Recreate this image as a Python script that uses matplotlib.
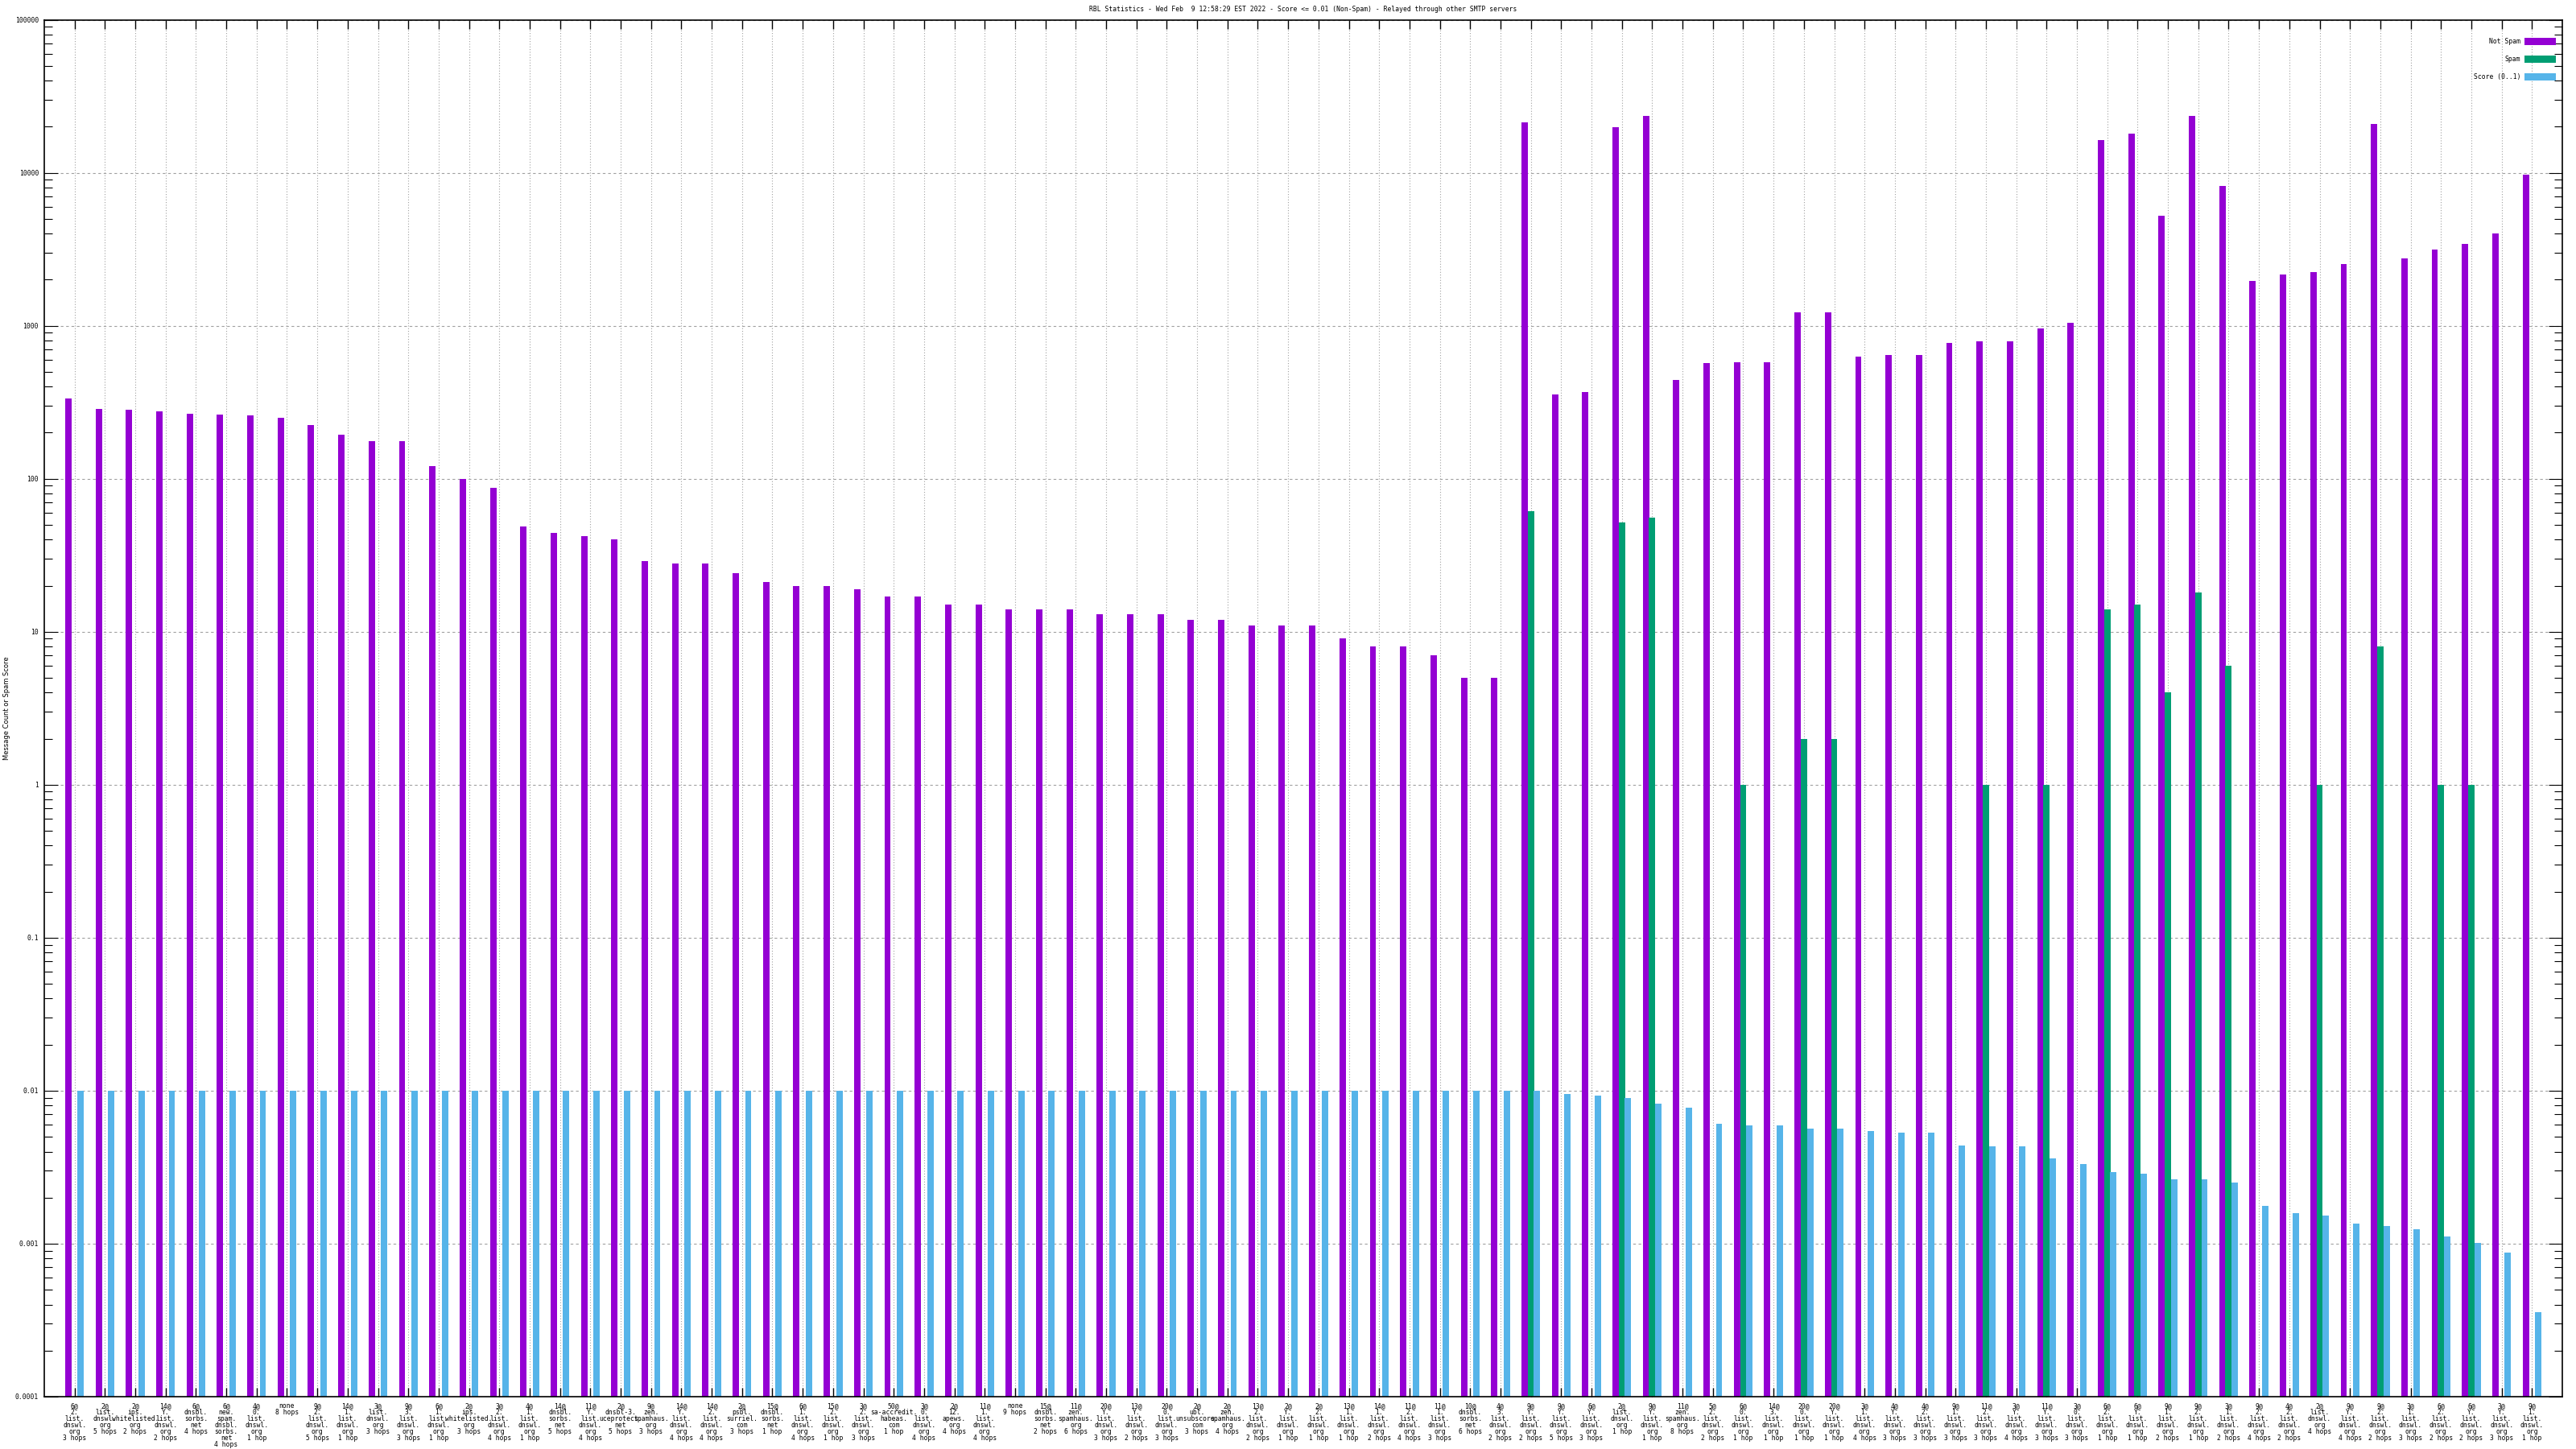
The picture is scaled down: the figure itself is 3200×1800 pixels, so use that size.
import numpy as np
import matplotlib
matplotlib.use("Agg")
import matplotlib.pyplot as plt
from matplotlib.patches import Patch
from matplotlib.ticker import LogLocator, NullFormatter, FixedLocator, FixedFormatter

title = ("RBL Statistics - Wed Feb  9 12:58:29 EST 2022 - Score <= 0.01 (Non-Spam) "
         "- Relayed through other SMTP servers")
ylabel = "Message Count or Spam Score"
series_names = ["Not Spam", "Spam", "Score (0..1)"]

weights = ["6", "2", "2", "14", "6", "6", "4", "none", "9", "14",
           "3", "9", "6", "2", "3", "4", "14", "11", "2", "9",
           "14", "14", "2", "15", "6", "15", "3", "50", "3", "2",
           "11", "none", "15", "11", "20", "13", "20", "2", "2", "13",
           "2", "2", "13", "14", "11", "11", "10", "4", "9", "9",
           "6", "2", "9", "11", "5", "6", "14", "20", "20", "3",
           "4", "4", "9", "11", "3", "11", "3", "6", "6", "9",
           "9", "3", "9", "4", "2", "9", "9", "3", "6", "6",
           "3", "9"]
hosts = ["2.list.dnswl.org", "list.dnswl.org", "ips.whitelisted.org", "Y.list.dnswl.org",
         "dnsbl.sorbs.net", "new.spam.dnsbl.sorbs.net", "0.list.dnswl.org", "",
         "2.list.dnswl.org", "1.list.dnswl.org", "list.dnswl.org", "3.list.dnswl.org",
         "1.list.dnswl.org", "ips.whitelisted.org", "2.list.dnswl.org", "1.list.dnswl.org",
         "dnsbl.sorbs.net", "Y.list.dnswl.org", "dnsbl-3.uceprotect.net", "zen.spamhaus.org",
         "Y.list.dnswl.org", "2.list.dnswl.org", "psbl.surriel.com", "dnsbl.sorbs.net",
         "1.list.dnswl.org", "2.list.dnswl.org", "2.list.dnswl.org", "sa-accredit.habeas.com",
         "0.list.dnswl.org", "12.apews.org", "1.list.dnswl.org", "",
         "dnsbl.sorbs.net", "zen.spamhaus.org", "Y.list.dnswl.org", "Y.list.dnswl.org",
         "0.list.dnswl.org", "ubl.unsubscore.com", "zen.spamhaus.org", "2.list.dnswl.org",
         "Y.list.dnswl.org", "2.list.dnswl.org", "1.list.dnswl.org", "1.list.dnswl.org",
         "2.list.dnswl.org", "1.list.dnswl.org", "dnsbl.sorbs.net", "3.list.dnswl.org",
         "Y.list.dnswl.org", "Y.list.dnswl.org", "Y.list.dnswl.org", "list.dnswl.org",
         "Y.list.dnswl.org", "zen.spamhaus.org", "2.list.dnswl.org", "0.list.dnswl.org",
         "3.list.dnswl.org", "0.list.dnswl.org", "Y.list.dnswl.org", "1.list.dnswl.org",
         "Y.list.dnswl.org", "2.list.dnswl.org", "1.list.dnswl.org", "2.list.dnswl.org",
         "Y.list.dnswl.org", "Y.list.dnswl.org", "0.list.dnswl.org", "2.list.dnswl.org",
         "Y.list.dnswl.org", "1.list.dnswl.org", "2.list.dnswl.org", "1.list.dnswl.org",
         "2.list.dnswl.org", "2.list.dnswl.org", "list.dnswl.org", "Y.list.dnswl.org",
         "2.list.dnswl.org", "1.list.dnswl.org", "2.list.dnswl.org", "Y.list.dnswl.org",
         "Y.list.dnswl.org", "1.list.dnswl.org"]
hops = [3, 5, 2, 2, 4, 4, 1, 8, 5, 1,
        3, 3, 1, 3, 4, 1, 5, 4, 5, 3,
        4, 4, 3, 1, 4, 1, 3, 1, 4, 4,
        4, 9, 2, 6, 3, 2, 3, 3, 4, 2,
        1, 1, 1, 2, 4, 3, 6, 2, 2, 5,
        3, 1, 1, 8, 2, 1, 1, 1, 1, 4,
        3, 3, 3, 3, 4, 3, 3, 1, 1, 2,
        1, 2, 4, 2, 4, 4, 2, 3, 2, 2,
        3, 1]

not_spam = [336, 287, 284, 274, 267, 264, 258, 249, 223, 195,
            175, 175, 121, 100, 87, 49, 44, 42, 40, 29,
            28, 28, 24, 21, 20, 20, 19, 17, 17, 15,
            15, 14, 14, 14, 13, 13, 13, 12, 12, 11,
            11, 11, 9, 8, 8, 7, 5, 5, 21400, 357,
            370, 19900, 23600, 443, 570, 577, 577, 1219, 1219, 628,
            644, 644, 771, 789, 789, 957, 1042, 16400, 17900, 5230,
            23600, 8170, 1950, 2170, 2250, 2540, 20900, 2760, 3150, 3430,
            4020, 9670]
spam = [0, 0, 0, 0, 0, 0, 0, 0, 0, 0,
        0, 0, 0, 0, 0, 0, 0, 0, 0, 0,
        0, 0, 0, 0, 0, 0, 0, 0, 0, 0,
        0, 0, 0, 0, 0, 0, 0, 0, 0, 0,
        0, 0, 0, 0, 0, 0, 0, 0, 61, 0,
        0, 52, 56, 0, 0, 1, 0, 2, 2, 0,
        0, 0, 0, 1, 0, 1, 0, 14, 15, 4,
        18, 6, 0, 0, 1, 0, 8, 0, 1, 1,
        0, 0]
score = [0.01, 0.01, 0.01, 0.01, 0.01, 0.01, 0.01, 0.01, 0.01, 0.01,
         0.01, 0.01, 0.01, 0.01, 0.01, 0.01, 0.01, 0.01, 0.01, 0.01,
         0.01, 0.01, 0.01, 0.01, 0.01, 0.01, 0.01, 0.01, 0.01, 0.01,
         0.01, 0.01, 0.01, 0.01, 0.01, 0.01, 0.01, 0.01, 0.01, 0.01,
         0.01, 0.01, 0.01, 0.01, 0.01, 0.01, 0.01, 0.01, 0.01, 0.00957,
         0.00926, 0.0090, 0.00825, 0.0077, 0.00606, 0.00592, 0.0059, 0.00564, 0.00564, 0.00543,
         0.00531, 0.00531, 0.00438, 0.00433, 0.00433, 0.00361, 0.00332, 0.00294, 0.00287, 0.00264,
         0.00264, 0.00252, 0.00177, 0.00159, 0.00153, 0.00136, 0.00131, 0.00125, 0.00111, 0.00101,
         0.00087, 0.000357]
ytick_labels = ["0.0001", "0.001", "0.01", "0.1", "1", "10", "100", "1000", "10000", "100000"]


def make_label(w, host, h):
    hop_txt = f"{h} hop" if h == 1 else f"{h} hops"
    if w == "none":
        return f"none\n{hop_txt}"
    parts = host.split(".")
    lines = [p + "." for p in parts[:-1]] + [parts[-1]]
    return "\n".join([f"{w}@"] + lines + [hop_txt])


labels = [make_label(w, h, n) for w, h, n in zip(weights, hosts, hops)]

colors = ["#9400d3", "#009e73", "#56b4e9"]
mono = "DejaVu Sans Mono"
fs = 5.8

W, H = 3200, 1800
fig = plt.figure(figsize=(W / 100, H / 100), dpi=100)
ax = fig.add_axes([55 / W, 65 / H, 3128 / W, (1735 - 24.5) / H])

x = np.arange(1, len(not_spam) + 1)
bw = 0.21
off = 0.205
ax.bar(x - off, not_spam, width=bw, color=colors[0], zorder=2)
ax.bar(x, spam, width=bw, color=colors[1], zorder=2)
ax.bar(x + off, score, width=bw, color=colors[2], zorder=2)

ax.set_yscale("log")
ax.set_ylim(1e-4, 1e5)
ax.set_xlim(0, len(not_spam) + 1)

ax.yaxis.set_major_locator(FixedLocator([10.0 ** k for k in range(-4, 6)]))
ax.yaxis.set_major_formatter(FixedFormatter(ytick_labels))
ax.yaxis.set_minor_locator(LogLocator(base=10, subs=np.arange(2, 10), numticks=100))
ax.yaxis.set_minor_formatter(NullFormatter())

ax.set_xticks(x)
ax.set_xticklabels(labels, fontfamily=mono, fontsize=fs, linespacing=0.85)
for t in ax.get_yticklabels():
    t.set_fontfamily(mono)
    t.set_fontsize(fs)

ax.tick_params(axis="x", which="major", direction="in", length=8, width=1.0,
               top=True, bottom=True, pad=5)
ax.tick_params(axis="y", which="major", direction="in", length=12.5, width=0.8,
               left=True, right=True, pad=5)
ax.tick_params(axis="y", which="minor", direction="in", length=7, width=0.8,
               left=True, right=True)

ax.grid(True, axis="y", which="major", color="#a0a0a0", linestyle=(0, (3, 3)), linewidth=0.8)
ax.grid(True, axis="x", which="major", color="#a0a0a0", linestyle=(0, (1, 2)), linewidth=0.8)
ax.set_axisbelow(True)
for sp in ax.spines.values():
    sp.set_linewidth(1.2)
    sp.set_color("black")

fig.text((1347 + 1891) / 2 / W, 1 - 12 / H, title, ha="center", va="center",
         fontfamily=mono, fontsize=fs)
fig.text(9 / W, 1 - 880 / H, ylabel, rotation=90, ha="center", va="center",
         fontfamily="DejaVu Sans", fontsize=6.0)

handles = [Patch(facecolor=c, edgecolor="none") for c in colors]
ax.legend(handles, series_names, loc="upper right",
          bbox_to_anchor=(3175 / W, 1 - 47 / H), bbox_transform=fig.transFigure,
          frameon=False, markerfirst=False, prop={"family": mono, "size": fs},
          handlelength=4.8, handleheight=1.36, handletextpad=0.6,
          labelspacing=1.6, borderpad=0, borderaxespad=0)

fig.savefig("out.png", dpi=100, facecolor="white")
